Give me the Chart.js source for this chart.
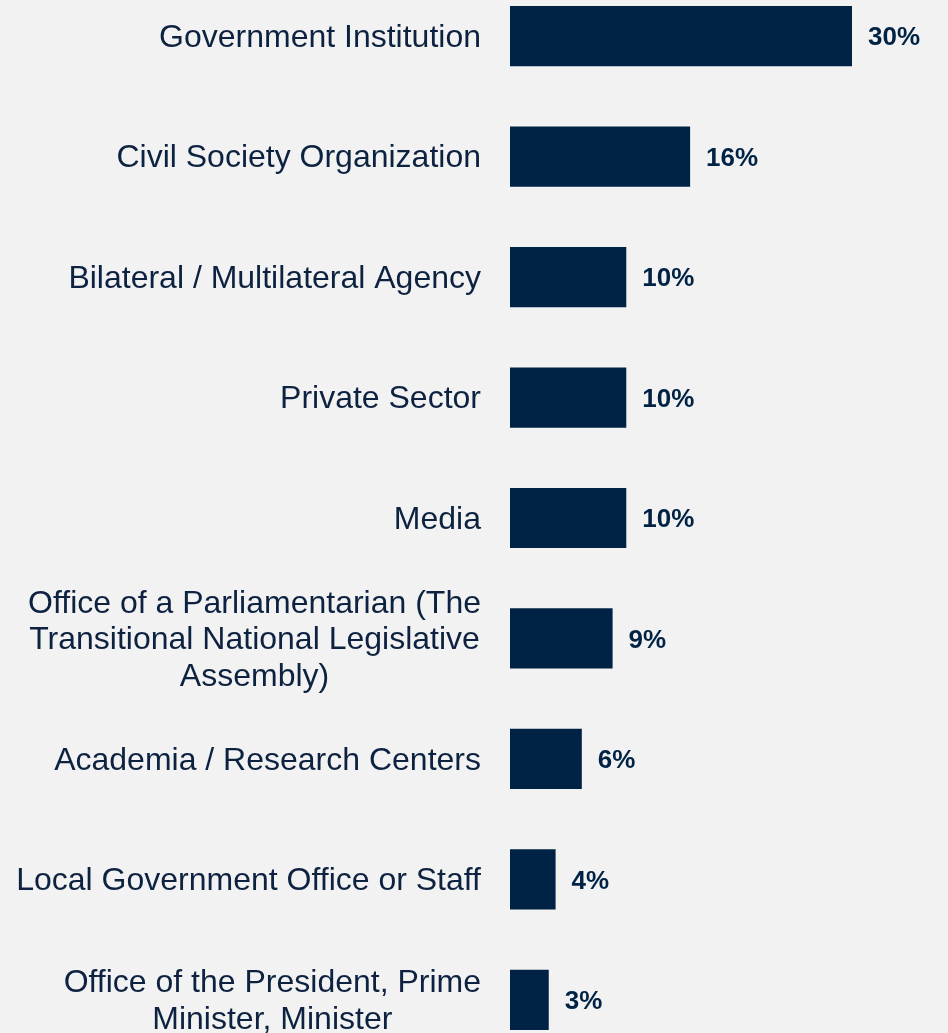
<!DOCTYPE html>
<html>
<head>
<meta charset="utf-8">
<script src="https://cdn.jsdelivr.net/npm/chart.js@4"></script>
<style>
  html, body { margin: 0; padding: 0; background: #f2f2f2; overflow: hidden; }
  #wrap { position: absolute; left: 0; top: -24px; width: 948px; height: 1084px; }
</style>
</head>
<body>
<div id="wrap"><canvas id="chart"></canvas></div>
<script>
const categories = [
    ["Government Institution"],
    ["Civil Society Organization"],
    ["Bilateral / Multilateral Agency"],
    ["Private Sector"],
    ["Media"],
    ["Office of a Parliamentarian (The", "Transitional National Legislative", "Assembly)"],
    ["Academia / Research Centers"],
    ["Local Government Office or Staff"],
    ["Office of the President, Prime", "Minister, Minister"]
];
const shares = [30, 15.8, 10.2, 10.2, 10.2, 9.0, 6.3, 4.0, 3.4];

const navy = "#002345";
const fontFamily = "'Liberation Sans', Arial, sans-serif";

// category labels: block right-aligned against the axis, lines centred inside it
// plus the % label just right of each bar end
const barLabels = {
    id: "barLabels",
    afterDatasetsDraw(chart) {
        const ctx = chart.ctx;
        const yScale = chart.scales.y;
        const meta = chart.getDatasetMeta(0);
        const lineH = 36.5;
        ctx.save();
        ctx.textBaseline = "middle";

        ctx.fillStyle = "#0d2240";
        ctx.font = "32px " + fontFamily;
        ctx.textAlign = "center";
        categories.forEach(function (lines, i) {
            const y = yScale.getPixelForValue(i) + 2;
            const blockW = Math.max.apply(null, lines.map(l => ctx.measureText(l).width));
            const cx = 481 - blockW / 2;
            const y0 = y - (lines.length - 1) * lineH / 2;
            lines.forEach(function (l, k) {
                ctx.fillText(l, cx, y0 + k * lineH);
            });
        });

        ctx.fillStyle = navy;
        ctx.font = "bold 26px " + fontFamily;
        ctx.textAlign = "left";
        meta.data.forEach(function (bar, i) {
            ctx.fillText(Math.round(shares[i]) + "%", bar.x + 16, bar.y + 2);
        });
        ctx.restore();
    }
};

new Chart(document.getElementById("chart").getContext("2d"), {
    type: "bar",
    data: {
        labels: categories,
        datasets: [{
            data: shares,
            backgroundColor: navy,
            barPercentage: 0.5,
            categoryPercentage: 1.0
        }]
    },
    options: {
        indexAxis: "y",
        responsive: true,
        maintainAspectRatio: false,
        animation: false,
        layout: { padding: { top: 0, bottom: 0, left: 0, right: 39 } },
        plugins: {
            legend: { display: false },
            tooltip: { enabled: false }
        },
        scales: {
            x: {
                display: false,
                min: 0,
                max: 35
            },
            y: {
                grid: { display: false, drawTicks: false },
                border: { display: false },
                ticks: { display: false },
                afterFit(scale) {
                    scale.width = 510;
                    scale.paddingTop = 0;
                    scale.paddingBottom = 0;
                }
            }
        }
    },
    plugins: [barLabels]
});
</script>
</body>
</html>
